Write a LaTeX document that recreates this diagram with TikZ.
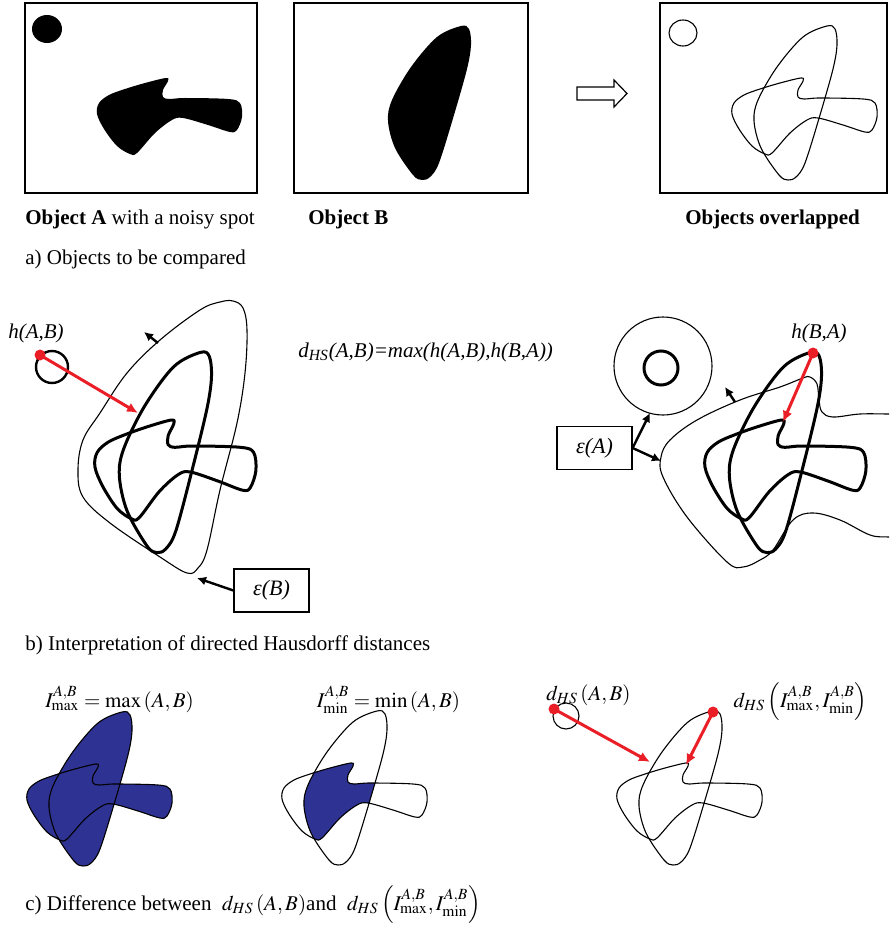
\documentclass[tikz,border=0pt]{standalone}
\usepackage{mathptmx}
\usepackage[no-math]{fontspec}
\setmainfont{Liberation Serif}
\usetikzlibrary{arrows.meta}
\definecolor{hred}{RGB}{234,30,38}
\definecolor{fillblue}{RGB}{46,50,146}
\newcommand\pathA{plot[smooth cycle,tension=0.55] coordinates {(72,111) (74,100) (84,92) (100,86) (120,80) (141,75) (143,78) (138,87) (138,94) (144,96) (160,95) (203,96) (215,100) (217,114) (212,127) (205,129) (183,122) (158,115) (147,117) (130,130) (112,150) (105,151) (92,143) (79,126)}}
\newcommand\pathB{plot[smooth cycle,tension=0.55] coordinates {(167,23) (175,26) (177,42) (173,66) (160,112) (145,160) (136,174) (128,177) (119,172) (101,145) (94,118) (98,97) (117,64) (143,34)}}
\tikzset{
  frame/.style={draw, line width=0.6pt},
  thinline/.style={line width=0.55pt, line join=round},
  thickline/.style={line width=1.5pt, line join=round},
  redarrow/.style={draw=hred, line width=1.5pt, -{Latex[length=5.5pt,width=5pt]}},
  blackarrow/.style={draw=black, line width=1.2pt, -{Latex[length=4.5pt,width=4.5pt]}},
  reddot/.style={circle, fill=hred, inner sep=0pt, minimum size=5.5pt},
  lab/.style={inner sep=0pt, font=\fontsize{10.5}{12.6}\selectfont},
  ilab/.style={inner sep=0pt, font=\fontsize{10.5}{12.6}\selectfont\itshape},
  labbox/.style={draw, line width=0.6pt, minimum width=37.5pt, minimum height=21.5pt, inner sep=0pt, font=\fontsize{11}{13}\selectfont\itshape},
}
\begin{document}
\begin{tikzpicture}[x=0.5pt,y=-0.5pt]
\useasboundingbox (0,0) rectangle (889,925);

% ---------- a) top row ----------
\draw[frame] (25,3) rectangle (257,193);
\draw[frame] (294,3) rectangle (528,193);
\draw[frame] (660,3) rectangle (887,193);
\fill (47,29) ellipse[x radius=7.5pt, y radius=7pt];
\begin{scope}[shift={(25,3)}] \fill \pathA; \end{scope}
\begin{scope}[shift={(294,3)}] \fill \pathB; \end{scope}
\draw[frame] (577,87) -- (614,87) -- (614,80) -- (627,93.5) -- (614,107) -- (614,100) -- (577,100) -- cycle;
\draw[thinline] (683,33) ellipse[x radius=7pt, y radius=6.5pt];
\begin{scope}[shift={(660,3)}] \draw[thinline] \pathA; \draw[thinline] \pathB; \end{scope}

\node[lab, anchor=base west] (labA) at (25,225) {\textbf{Object A} with a noisy spot};
\node[lab, anchor=base west] (labB) at (308,225) {\textbf{Object B}};
\node[lab, anchor=base west] (labO) at (685,225) {\textbf{Objects overlapped}};
\node[lab, anchor=base west] (capa) at (25,264) {a) Objects to be compared};

% ---------- b) left ----------
\draw[thinline] plot[smooth cycle,tension=0.6] coordinates {(220,302) (233,301) (243,308) (247,330) (245,373) (237,423) (220,490) (207,550) (198,568) (187,573) (160,557) (110,523) (83,497) (78,470) (83,440) (100,413) (127,373) (160,340) (200,310)};
\begin{scope}[shift={(15,322.5)}, xscale=1.11, yscale=1.3]
  \draw[thickline] \pathA; \draw[thickline] \pathB;
\end{scope}
\draw[line width=1.2pt] (52,367) circle[radius=8pt];
\node[reddot] (rd1) at (40,355) {};
\coordinate (rt1) at (138,413);
\draw[redarrow] (rd1.center) -- (rt1);
\node[ilab, anchor=base] (hAB) at (36,338) {h(A,B)};
\coordinate (o1) at (158,343);
\coordinate (o1t) at (144,332);
\draw[blackarrow] (o1) -- (o1t);
\node[labbox] (bxB) at (271.5,590.5) {ε(B)};
\coordinate (eBt) at (197,578);
\draw[blackarrow] (bxB.west) -- (eBt);

\node[ilab, anchor=base west] (dHS) at (298,357) {d\textsubscript{HS}(A,B)=max(h(A,B),h(B,A))};

% ---------- b) right ----------
\begin{scope}
\clip (0,0) rectangle (889,925);
\draw[thinline] plot[smooth, tension=0.6] coordinates {(905,538) (889,537) (870,535) (840,520) (813,513) (793,520) (773,550) (760,560) (743,567) (727,562) (687,517) (663,477) (661,457) (670,440) (697,420) (740,400) (780,387) (803,378) (810,377) (817,384) (819,400) (822,412) (833,417) (860,414) (889,414) (905,414)};
\end{scope}
\begin{scope}[shift={(625,322.5)}, xscale=1.11, yscale=1.3]
  \draw[thickline] \pathA; \draw[thickline] \pathB;
\end{scope}
\draw[thinline] (663,366) circle[radius=24.5pt];
\draw[line width=1.5pt] (661,368) circle[radius=8.5pt];
\coordinate (o2) at (735,402);
\coordinate (o2t) at (725,387);
\draw[blackarrow] (o2) -- (o2t);
\node[reddot] (rd2) at (813,353) {};
\coordinate (rt2) at (783,422);
\draw[redarrow] (rd2.center) -- (rt2);
\node[ilab, anchor=base] (hBA) at (819,338) {h(B,A)};
\node[labbox] (bxA) at (594.5,448) {ε(A)};
\coordinate (eAc) at (650,413);
\coordinate (eAo) at (661,461);
\draw[blackarrow] (bxA.east) -- (eAc);
\draw[blackarrow] (bxA.east) -- (eAo);

\node[lab, anchor=base west] (capb) at (25,650) {b) Interpretation of directed Hausdorff distances};

% ---------- c) ----------
\begin{scope}[shift={(-45,689)}]
  \fill[fillblue] \pathA; \fill[fillblue] \pathB;
  \draw[thinline] \pathA; \draw[thinline] \pathB;
\end{scope}
\begin{scope}[shift={(210,688)}]
  \begin{scope} \clip \pathA; \fill[fillblue] \pathB; \end{scope}
  \draw[thinline] \pathA; \draw[thinline] \pathB;
\end{scope}
\begin{scope}[shift={(545,688)}]
  \draw[thinline] \pathA; \draw[thinline] \pathB;
\end{scope}
\draw[thinline] (566,716) circle[radius=6.5pt];
\node[reddot] (rd3) at (554,709) {};
\coordinate (rt3) at (650,762);
\draw[redarrow] (rd3.center) -- (rt3);
\node[reddot] (rd4) at (713,712) {};
\coordinate (rt4) at (686,765);
\draw[redarrow] (rd4.center) -- (rt4);

\node[lab, anchor=base] (Imax) at (119.5,707) {$I^{A,B}_{\max} = \max\left(A,B\right)$};
\node[lab, anchor=base] (Imin) at (388.5,707) {$I^{A,B}_{\min} = \min\left(A,B\right)$};
\node[lab, anchor=base] (dAB) at (588.5,700) {$d_{HS}\left(A,B\right)$};
\node[lab, anchor=base] (dII) at (800.5,707) {$d_{HS}\left(I^{A,B}_{\max},I^{A,B}_{\min}\right)$};
\node[lab, anchor=base west] (capc) at (25,910) {c) Difference between \ $d_{HS}\left(A,B\right)$and \ $d_{HS}\left(I^{A,B}_{\max},I^{A,B}_{\min}\right)$};
\end{tikzpicture}
\end{document}
